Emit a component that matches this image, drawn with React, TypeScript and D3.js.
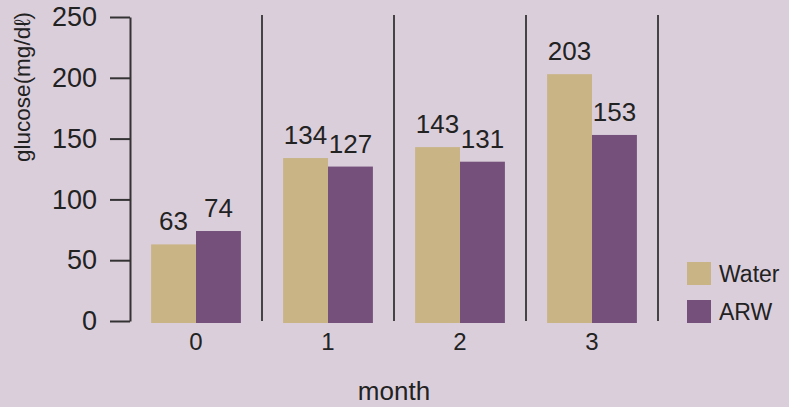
import * as d3 from 'd3';
import { useEffect, useRef } from 'react';

const months = ['0', '1', '2', '3'];
const seriesNames = ['Water', 'ARW'];
const waterValues = [63, 134, 143, 203];
const arwValues = [74, 127, 131, 153];
const yTickValues = [0, 50, 100, 150, 200, 250];

const seriesColors = ['#c9b486', '#74507a'];
const width = 789;
const height = 407;
const plot = { left: 130, right: 658, top: 17, bottom: 321 };
const fontFamily = '"Liberation Sans", Arial, Helvetica, sans-serif';

export default function App() {
  const svgRef = useRef<SVGSVGElement>(null);

  useEffect(() => {
    if (!svgRef.current) return;
    const svgEl = d3.select(svgRef.current);
    svgEl.selectAll('*').remove();

    svgEl.append('rect').attr('width', width).attr('height', height).attr('fill', '#dbcedb');

    const xScale = d3.scaleBand().domain(months).range([plot.left, plot.right]).padding(0);
    const innerScale = d3
      .scaleBand()
      .domain(seriesNames)
      .range([0, xScale.bandwidth()])
      .paddingInner(0)
      .paddingOuter(0.47);
    const yScale = d3.scaleLinear().domain([0, 250]).range([plot.bottom, plot.top]);

    const rows = months.map((month, i) => ({
      month,
      values: [waterValues[i], arwValues[i]]
    }));

    // y axis, R style with outward ticks
    svgEl
      .append('g')
      .attr('transform', `translate(${plot.left},0)`)
      .call(d3.axisLeft(yScale).tickValues(yTickValues).tickSize(20).tickPadding(13).tickSizeOuter(0))
      .call((g) => {
        g.select('.domain').attr('stroke', '#333').attr('stroke-width', 2);
        g.selectAll('.tick line').attr('stroke', '#333').attr('stroke-width', 2);
        g.selectAll('.tick text')
          .attr('font-size', 27)
          .attr('font-family', fontFamily)
          .attr('fill', '#222');
      });

    // separators at the right edge of each month band
    svgEl
      .append('g')
      .selectAll('line')
      .data(months)
      .enter()
      .append('line')
      .attr('x1', (d) => xScale(d)! + xScale.bandwidth())
      .attr('x2', (d) => xScale(d)! + xScale.bandwidth())
      .attr('y1', plot.top - 2)
      .attr('y2', plot.bottom)
      .attr('stroke', '#444')
      .attr('stroke-width', 2);

    const groups = svgEl
      .append('g')
      .selectAll('g')
      .data(rows)
      .enter()
      .append('g')
      .attr('transform', (d) => `translate(${xScale(d.month)},0)`);

    groups
      .selectAll('rect')
      .data((d) => d.values.map((value, i) => ({ key: seriesNames[i], value, i })))
      .enter()
      .append('rect')
      .attr('x', (d) => innerScale(d.key)!)
      .attr('width', innerScale.bandwidth())
      .attr('y', (d) => yScale(d.value))
      .attr('height', (d) => yScale(0) - yScale(d.value) + 2)
      .attr('fill', (d) => seriesColors[d.i]);

    groups
      .selectAll('text.value')
      .data((d) => d.values.map((value, i) => ({ key: seriesNames[i], value })))
      .enter()
      .append('text')
      .attr('class', 'value')
      .attr('x', (d) => innerScale(d.key)! + innerScale.bandwidth() / 2)
      .attr('y', (d) => yScale(d.value) - 14)
      .attr('text-anchor', 'middle')
      .attr('font-size', 26)
      .attr('font-family', fontFamily)
      .attr('fill', '#222')
      .text((d) => d.value);

    // x tick labels
    svgEl
      .append('g')
      .selectAll('text')
      .data(months)
      .enter()
      .append('text')
      .attr('x', (d) => xScale(d)! + xScale.bandwidth() / 2)
      .attr('y', 350)
      .attr('text-anchor', 'middle')
      .attr('font-size', 24)
      .attr('font-family', fontFamily)
      .attr('fill', '#222')
      .text((d) => d);

    svgEl
      .append('text')
      .attr('x', (plot.left + plot.right) / 2)
      .attr('y', 400)
      .attr('text-anchor', 'middle')
      .attr('font-size', 26)
      .attr('font-family', fontFamily)
      .attr('fill', '#222')
      .text('month');

    svgEl
      .append('text')
      .attr('transform', 'translate(30,87) rotate(-90)')
      .attr('text-anchor', 'middle')
      .attr('font-size', 22.5)
      .attr('font-family', fontFamily)
      .attr('fill', '#222')
      .text('glucose(mg/dℓ)');

    // legend
    const legend = svgEl
      .append('g')
      .selectAll('g')
      .data(seriesNames)
      .enter()
      .append('g')
      .attr('transform', (_, i) => `translate(687,${262 + i * 38})`);
    legend
      .append('rect')
      .attr('width', 24)
      .attr('height', 23)
      .attr('fill', (_, i) => seriesColors[i]);
    legend
      .append('text')
      .attr('x', 32)
      .attr('y', 20)
      .attr('font-size', 23)
      .attr('font-family', fontFamily)
      .attr('fill', '#222')
      .text((d) => d);
  }, []);

  return (
    <>
      <style>{'body{margin:0}'}</style>
      <svg ref={svgRef} width={width} height={height} style={{ display: 'block' }} />
    </>
  );
}
